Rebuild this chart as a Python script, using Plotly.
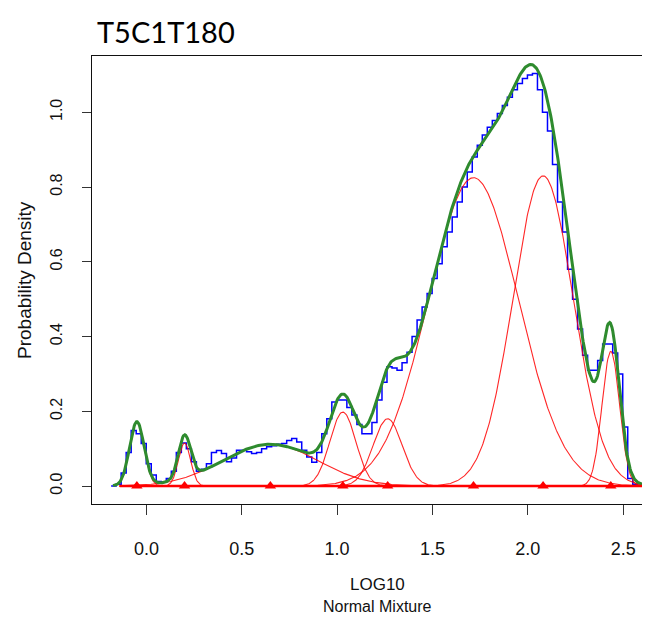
import numpy as np
import plotly.graph_objects as go

# ---------------- data ----------------
title_text = "T5C1T180"
x_label = "LOG10"
sub_label = "Normal Mixture"
y_label = "Probability Density"

# normal-mixture components: mean, standard deviation, peak density
comp_means = [-0.05, 0.20, 0.65, 1.03, 1.265, 1.715, 2.08, 2.435]
comp_sds = [0.038, 0.032, 0.25, 0.068, 0.076, 0.235, 0.158, 0.046]
comp_peaks = [0.17, 0.115, 0.112, 0.198, 0.18, 0.825, 0.83, 0.36]

# empirical histogram (density per bin)
hist_start = -0.185
hist_width = 0.0263
hist_density = [
    0.0, 0.005, 0.035, 0.09, 0.149, 0.14, 0.114, 0.06, 0.03, 0.012,
    0.01, 0.02, 0.04, 0.09, 0.115, 0.10, 0.065, 0.04, 0.045, 0.06,
    0.09, 0.095, 0.087, 0.065, 0.075, 0.096, 0.096, 0.092, 0.087, 0.09,
    0.10, 0.105, 0.108, 0.112, 0.114, 0.122, 0.127, 0.118, 0.096, 0.078,
    0.064, 0.09, 0.14, 0.18, 0.225, 0.23, 0.23, 0.21, 0.19, 0.165,
    0.14, 0.14, 0.17, 0.23, 0.278, 0.319, 0.316, 0.31, 0.33, 0.358,
    0.40, 0.444, 0.479, 0.515, 0.555, 0.595, 0.64, 0.68, 0.72, 0.76,
    0.80, 0.84, 0.88, 0.912, 0.939, 0.96, 0.978, 0.997, 1.018, 1.04,
    1.06, 1.077, 1.09, 1.10, 1.104, 1.06, 1.0, 0.95, 0.86, 0.76,
    0.68, 0.58, 0.50, 0.42, 0.35, 0.31, 0.31, 0.336, 0.38, 0.38,
    0.356, 0.30, 0.158, 0.02, 0.005, 0.0,
]

total_x_range = [-0.175, 2.60]
comp_x_range = [-0.14, 2.60]

x_ticks = [0.0, 0.5, 1.0, 1.5, 2.0, 2.5]
x_tick_text = ["0.0", "0.5", "1.0", "1.5", "2.0", "2.5"]
y_ticks = [0.0, 0.2, 0.4, 0.6, 0.8, 1.0]
y_tick_text = ["0.0", "0.2", "0.4", "0.6", "0.8", "1.0"]

# ---------------- derived series ----------------
def component(x, m, s, h):
    return h * np.exp(-((x - m) ** 2) / (2 * s * s))

xs_total = np.linspace(total_x_range[0], total_x_range[1], 700)
xs_comp = np.linspace(comp_x_range[0], comp_x_range[1], 700)
total = sum(component(xs_total, m, s, h) for m, s, h in zip(comp_means, comp_sds, comp_peaks))

edges = hist_start + hist_width * np.arange(len(hist_density) + 1)
step_y = list(hist_density) + [hist_density[-1]]

fig = go.Figure()

# histogram outline
fig.add_trace(go.Scatter(x=edges, y=step_y, mode="lines", line=dict(color="#0000FF", width=1.5, shape="hv"),
                         hoverinfo="skip", showlegend=False))

# components
for m, s, h in zip(comp_means, comp_sds, comp_peaks):
    fig.add_trace(go.Scatter(x=xs_comp, y=component(xs_comp, m, s, h), mode="lines",
                             line=dict(color="rgba(255,0,0,0.85)", width=1.1),
                             hoverinfo="skip", showlegend=False))

# mixture total
fig.add_trace(go.Scatter(x=xs_total, y=total, mode="lines", line=dict(color="#2E8B2E", width=3),
                         hoverinfo="skip", showlegend=False))

# baseline and component means
fig.add_trace(go.Scatter(x=comp_x_range, y=[0, 0], mode="lines", line=dict(color="#FF0000", width=2.5),
                         hoverinfo="skip", showlegend=False))
fig.add_trace(go.Scatter(x=comp_means, y=[0] * len(comp_means), mode="markers",
                         marker=dict(symbol="triangle-up", size=10, color="#FF0000"),
                         hoverinfo="skip", showlegend=False))

axis_font = dict(family="Liberation Sans, Arial, sans-serif", color="#111111")

# the page body adds an 8px offset, so the figure is 8px smaller and shifted
fig.update_layout(
    width=642, height=609,
    margin=dict(l=84, r=0, t=48, b=113),
    paper_bgcolor="white", plot_bgcolor="white",
    showlegend=False,
    xaxis=dict(range=[-0.2853, 2.6406], tickvals=x_ticks, ticktext=x_tick_text,
               showgrid=False, zeroline=False, showline=True, mirror=True,
               linecolor="#111111", linewidth=1.3, ticks="outside", ticklen=10,
               tickcolor="#333333", tickwidth=1.2, ticklabelstandoff=18,
               tickfont=dict(size=18, **axis_font)),
    yaxis=dict(range=[-0.0479, 1.1505], tickvals=y_ticks, ticktext=y_tick_text,
               showgrid=False, zeroline=False, showline=True, mirror=False,
               linecolor="#111111", linewidth=1.3, ticks="outside", ticklen=9,
               tickcolor="#333333", tickwidth=1.2, tickangle=-90, ticklabelstandoff=13,
               tickfont=dict(size=16, **axis_font)),
    annotations=[
        dict(text=title_text, xref="paper", yref="paper", x=0.0054, y=1.0536,
             xanchor="left", yanchor="middle", showarrow=False,
             font=dict(family="Lato, Open Sans, sans-serif", size=29, color="#000000")),
        dict(text=y_label, xref="paper", yref="paper", x=-0.1219, y=0.5, textangle=-90,
             xanchor="center", yanchor="middle", showarrow=False,
             font=dict(size=19, **axis_font)),
        dict(text=x_label, xref="paper", yref="paper", x=0.5125, y=-0.1787,
             xanchor="center", yanchor="middle", showarrow=False,
             font=dict(size=17, **axis_font)),
        dict(text=sub_label, xref="paper", yref="paper", x=0.5125, y=-0.2288,
             xanchor="center", yanchor="middle", showarrow=False,
             font=dict(size=16, **axis_font)),
    ],
)

fig.write_html("out.html")
